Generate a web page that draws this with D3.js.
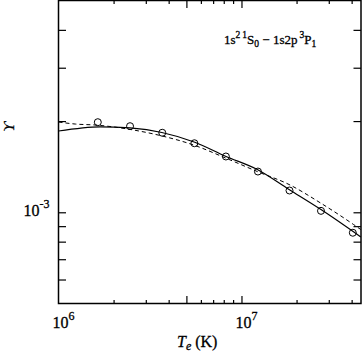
<!DOCTYPE html>
<html>
<head>
<meta charset="utf-8">
<script src="https://cdn.jsdelivr.net/npm/d3@7"></script>
<style>
  body { margin: 0; background: #fff; }
  svg { display: block; }
  text { font-family: "Liberation Serif", "DejaVu Serif", serif; fill: #000; stroke: #000; stroke-width: 0.3px; }
</style>
</head>
<body>
<div id="chart"></div>
<script>
// values (T in K, Upsilon dimensionless)
const pointT = [1.64e6, 2.46e6, 3.69e6, 5.53e6, 8.22e6, 1.23e7, 1.83e7, 2.72e7, 4.06e7];
const pointUps = [1.983e-3, 1.924e-3, 1.830e-3, 1.690e-3, 1.528e-3, 1.363e-3, 1.180e-3, 1.011e-3, 0.856e-3];

const solidT = [1.0e6, 1.69e6, 2.46e6, 3.67e6, 5.56e6, 8.18e6, 1.22e7, 1.82e7, 2.72e7, 4.49e7];
const solidUps = [1.855e-3, 1.915e-3, 1.898e-3, 1.834e-3, 1.703e-3, 1.531e-3, 1.384e-3, 1.189e-3, 1.021e-3, 0.829e-3];

const dashT = [1.0e6, 1.24e6, 1.59e6, 2.28e6, 3.50e6, 5.56e6, 8.18e6, 1.22e7, 1.82e7, 2.72e7, 4.1e7, 4.49e7];
const dashUps = [1.986e-3, 1.955e-3, 1.941e-3, 1.891e-3, 1.799e-3, 1.662e-3, 1.511e-3, 1.363e-3, 1.235e-3, 1.071e-3, 0.911e-3, 0.877e-3];

const xDomain = [1e6, 4.5e7];
const yDomain = [5e-4, 5e-3];
const xMinorTicks = [2e6, 3e6, 4e6, 6e6, 7e6, 8e6, 9e6, 2e7, 3e7, 4e7];
const xMajorTicks = [5e6, 1e7];
const yTicks = [6e-4, 7e-4, 8e-4, 9e-4, 1e-3, 2e-3, 3e-3, 4e-3];
const xLabels = [{v: 1e6, base: "10", exp: "6"}, {v: 1e7, base: "10", exp: "7"}];
const yLabels = [{v: 1e-3, base: "10", exp: "-3"}];

const width = 362, height = 353;
const margin = {top: 0.5, right: 1, bottom: 49.5, left: 58.5};

let svg = d3.select("#chart").append("svg")
    .attr("width", width)
    .attr("height", height);

let x = d3.scaleLog().domain(xDomain).range([margin.left, width - margin.right]);
let y = d3.scaleLog().domain(yDomain).range([height - margin.bottom, margin.top]);

let plotW = width - margin.right - margin.left;
let plotH = height - margin.bottom - margin.top;

// ticks on all four sides, pointing inwards
function tickAxis(axis, values, size, tx, ty) {
    svg.append("g")
        .attr("transform", "translate(" + tx + "," + ty + ")")
        .call(axis.tickValues(values).tickSize(size).tickSizeOuter(0).tickFormat(""))
        .call(g => g.select(".domain").remove())
        .selectAll("line").attr("stroke", "#000").attr("stroke-width", 1.2);
}
tickAxis(d3.axisBottom(x), xMinorTicks, -3.5, 0, y.range()[0]);
tickAxis(d3.axisBottom(x), xMajorTicks, -7.5, 0, y.range()[0]);
tickAxis(d3.axisTop(x), xMinorTicks, -3.5, 0, y.range()[1]);
tickAxis(d3.axisTop(x), xMajorTicks, -7.5, 0, y.range()[1]);
tickAxis(d3.axisLeft(y), yTicks, -7.5, x.range()[0], 0);
tickAxis(d3.axisRight(y), yTicks, -7.5, x.range()[1], 0);

svg.append("rect")
    .attr("x", margin.left)
    .attr("y", margin.top)
    .attr("width", plotW)
    .attr("height", plotH)
    .attr("fill", "none")
    .attr("stroke", "#000")
    .attr("stroke-width", 1.5);

// curves
let line = d3.line()
    .x(d => x(d[0]))
    .y(d => y(d[1]))
    .curve(d3.curveMonotoneX);

svg.append("path")
    .datum(solidT.map((t, i) => [t, solidUps[i]]))
    .attr("d", line)
    .attr("fill", "none")
    .attr("stroke", "#000")
    .attr("stroke-width", 1.2);

svg.append("path")
    .datum(dashT.map((t, i) => [t, dashUps[i]]))
    .attr("d", line)
    .attr("fill", "none")
    .attr("stroke", "#000")
    .attr("stroke-width", 1)
    .attr("stroke-dasharray", "4,3");

svg.append("g").selectAll("circle")
    .data(pointT)
    .enter()
    .append("circle")
    .attr("cx", d => x(d))
    .attr("cy", (d, i) => y(pointUps[i]))
    .attr("r", 3.5)
    .attr("fill", "none")
    .attr("stroke", "#000")
    .attr("stroke-width", 1);

// tick labels with superscript exponents
let xl = svg.append("g").selectAll("text")
    .data(xLabels)
    .enter()
    .append("text")
    .attr("x", d => x(d.v) - 6)
    .attr("y", 328)
    .style("font-size", "16px");
xl.append("tspan").text(d => d.base);
xl.append("tspan").attr("dy", -8).style("font-size", "12px").text(d => d.exp);

let yl = svg.append("g").selectAll("text")
    .data(yLabels)
    .enter()
    .append("text")
    .attr("x", d => x.range()[0] - 9)
    .attr("y", d => y(d.v) + 3.5)
    .attr("text-anchor", "end")
    .style("font-size", "16px");
yl.append("tspan").text(d => d.base);
yl.append("tspan").attr("dy", -8).style("font-size", "12px").text(d => d.exp);

// axis titles
let xt = svg.append("text")
    .attr("x", 177)
    .attr("y", 347)
    .style("font-size", "16px");
xt.append("tspan").style("font-style", "italic").text("T");
xt.append("tspan").attr("dy", 3).style("font-style", "italic").style("font-size", "12px").text("e");
xt.append("tspan").attr("dy", -3).text(" (K)");

svg.append("text")
    .attr("transform", "translate(14,127) rotate(-90)")
    .attr("text-anchor", "middle")
    .style("font-size", "15px")
    .style("font-style", "italic")
    .text("ϒ");

// transition label
let tl = svg.append("text")
    .attr("x", 224)
    .attr("y", 44)
    .style("font-size", "13px");
tl.append("tspan").text("1s");
tl.append("tspan").attr("dy", -6).style("font-size", "9.5px").text("2");
tl.append("tspan").attr("dx", 2).style("font-size", "9.5px").text("1");
tl.append("tspan").attr("dy", 6).text("S");
tl.append("tspan").attr("dy", 3).style("font-size", "9.5px").text("0");
tl.append("tspan").attr("dy", -3).text(" − 1s2p");
tl.append("tspan").attr("dy", -6).attr("dx", 2).style("font-size", "9.5px").text("3");
tl.append("tspan").attr("dy", 6).text("P");
tl.append("tspan").attr("dy", 3).style("font-size", "9.5px").text("1");
</script>
</body>
</html>
